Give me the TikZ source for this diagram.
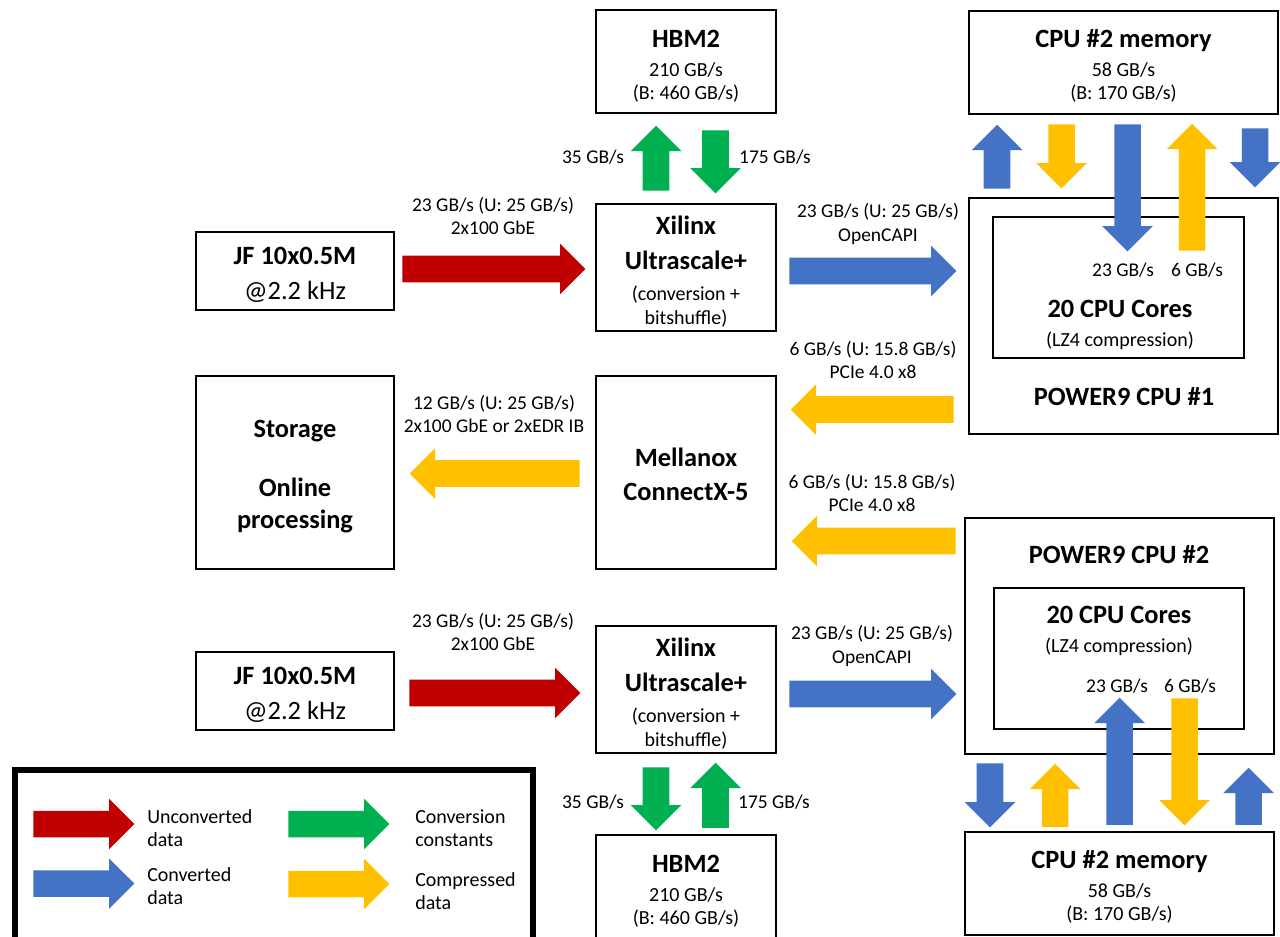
\documentclass[tikz,border=0pt]{standalone}
\usepackage{fontspec}
\setmainfont{Carlito}
\usetikzlibrary{shapes.arrows,positioning}

\definecolor{rawred}{HTML}{C00000}
\definecolor{convblue}{HTML}{4472C4}
\definecolor{constgreen}{HTML}{00B050}
\definecolor{comporange}{HTML}{FFC000}

\newcommand{\px}{*0.75pt}
\newcommand{\hd}{\fontsize{19.8}{22}\selectfont\bfseries}
\newcommand{\sm}{\fontsize{15}{17.4}\selectfont}

\begin{document}
\begin{tikzpicture}[x=0.75pt, y=-0.75pt,
    box/.style={draw, line width=1.5pt, rectangle, inner sep=0pt},
    boxtext/.style={align=center, inner sep=0pt, font=\sm, yshift=-3pt},
    lbl/.style={align=center, inner sep=0pt, font=\fontsize{14.6}{17.6}\selectfont},
    fat/.style={single arrow, draw=none, inner xsep=0pt, inner ysep=13\px, single arrow head extend=12\px, anchor=tail}]
    \useasboundingbox (0,0) rectangle (1280,936);

    % boxes
    \node [box, minimum width=180\px, minimum height=103\px, label={[boxtext, yshift=-0.5pt]center:{\hd HBM2\\[4.4pt] 210 GB/s\\(B: 460 GB/s)}}] (hbmtop) at (686,61.5) {};
    \node [box, minimum width=180\px, minimum height=127\px, label={[boxtext]center:{\hd Xilinx\\[8.8pt]\hd Ultrascale+\\[6pt] (conversion +\\bitshuffle)}}] (xilinxtop) at (686,267.5) {};
    \node [box, minimum width=198\px, minimum height=78\px, label={[boxtext]center:{\hd JF 10x0.5M\\[8.8pt]\fontsize{19.8}{22}\selectfont @2.2 kHz}}] (jftop) at (295,271) {};
    \node [box, minimum width=198\px, minimum height=193\px, label={[boxtext]center:{\hd Storage\\[26.6pt]\hd Online\\[6.6pt]\hd processing}}] (storage) at (295,472.5) {};
    \node [box, minimum width=180\px, minimum height=193\px, label={[boxtext, yshift=2pt]center:{\hd Mellanox\\[8.1pt]\hd ConnectX-5}}] (mellanox) at (686,472.5) {};
    \node [box, minimum width=198\px, minimum height=78\px, label={[boxtext]center:{\hd JF 10x0.5M\\[8.8pt]\fontsize{19.8}{22}\selectfont @2.2 kHz}}] (jfbottom) at (295,691) {};
    \node [box, minimum width=180\px, minimum height=127\px, label={[boxtext]center:{\hd Xilinx\\[8.8pt]\hd Ultrascale+\\[6pt] (conversion +\\bitshuffle)}}] (xilinxbottom) at (686,689.5) {};
    \node [box, minimum width=180\px, minimum height=103\px, label={[boxtext, yshift=-0.5pt]center:{\hd HBM2\\[4.4pt] 210 GB/s\\(B: 460 GB/s)}}] (hbmbottom) at (686,886.5) {};

    \node [box, minimum width=309\px, minimum height=103\px, label={[boxtext, yshift=0.5pt]center:{\hd CPU \#2 memory\\[4.4pt] 58 GB/s\\(B: 170 GB/s)}}] (memtop) at (1123.5,62.5) {};
    \node [box, minimum width=309\px, minimum height=236\px] (cputop) at (1123.5,316) {};
    \node [box, minimum width=251\px, minimum height=141\px] (corestop) at (1118.5,287.5) {};
    \node [boxtext, yshift=0pt] (corestoptext) at (1120,320.5) {\hd 20 CPU Cores\\[4.4pt] (LZ4 compression)};
    \node [font=\hd] (cputoptitle) at (1124,397) {POWER9 CPU \#1};

    \node [box, minimum width=309\px, minimum height=236\px] (cpubottom) at (1119.5,636) {};
    \node [box, minimum width=250\px, minimum height=141\px] (coresbottom) at (1119,658.5) {};
    \node [font=\hd] (cpubottomtitle) at (1119,555) {POWER9 CPU \#2};
    \node [boxtext, yshift=0pt] (coresbottomtext) at (1119,626.5) {\hd 20 CPU Cores\\[4.4pt] (LZ4 compression)};
    \node [box, minimum width=309\px, minimum height=103\px, label={[boxtext, yshift=0.5pt]center:{\hd CPU \#2 memory\\[4.4pt] 58 GB/s\\(B: 170 GB/s)}}] (membottom) at (1119.5,883.5) {};

    % data flow
    \node [fat, fill=rawred, minimum height=183\px] (rawtop) at (402,269) {};
    \node [fat, fill=convblue, minimum height=167\px] (convtop) at (789,271) {};
    \node [fat, fill=comporange, rotate=180, minimum height=163\px] (comptop) at (954,409.5) {};
    \node [fat, fill=comporange, rotate=180, minimum height=170\px] (compstore) at (580,473.5) {};
    \node [fat, fill=comporange, rotate=180, minimum height=164\px] (compbottom) at (956,541) {};
    \node [fat, fill=rawred, minimum height=171\px] (rawbottom) at (409,693) {};
    \node [fat, fill=convblue, minimum height=167\px] (convbottom) at (789,694) {};

    \node [fat, fill=constgreen, rotate=90, minimum height=65\px] (hbmtopup) at (656,191) {};
    \node [fat, fill=constgreen, rotate=-90, minimum height=63\px] (hbmtopdown) at (715.5,130) {};
    \node [fat, fill=constgreen, rotate=-90, minimum height=63\px] (hbmbottomdown) at (656,767) {};
    \node [fat, fill=constgreen, rotate=90, minimum height=65\px] (hbmbottomup) at (715.5,828) {};

    \node [fat, fill=convblue, rotate=90, minimum height=64\px] (memtopa) at (997,189) {};
    \node [fat, fill=comporange, rotate=-90, minimum height=64\px] (memtopb) at (1061.5,124) {};
    \node [fat, fill=convblue, rotate=-90, minimum height=127\px] (memtopc) at (1127.5,124) {};
    \node [fat, fill=comporange, rotate=90, minimum height=127\px] (memtopd) at (1192,251) {};
    \node [fat, fill=convblue, rotate=-90, minimum height=59\px] (memtope) at (1255,128) {};

    \node [fat, fill=convblue, rotate=-90, minimum height=64\px] (membottoma) at (990,763) {};
    \node [fat, fill=comporange, rotate=90, minimum height=63\px] (membottomb) at (1055,827) {};
    \node [fat, fill=convblue, rotate=90, minimum height=127\px] (membottomc) at (1119.5,825) {};
    \node [fat, fill=comporange, rotate=-90, minimum height=127\px] (membottomd) at (1184.5,698) {};
    \node [fat, fill=convblue, rotate=90, minimum height=57\px] (membottome) at (1248.5,825) {};

    % rates
    \node [lbl] (rawtoplbl) at (493,216) {23 GB/s (U: 25 GB/s)\\2x100 GbE};
    \node [lbl] (convtoplbl) at (878,224) {23 GB/s (U: 25 GB/s)\\OpenCAPI};
    \node [lbl] (comptoplbl) at (873,360) {6 GB/s (U: 15.8 GB/s)\\PCIe 4.0 x8};
    \node [lbl] (compstorelbl) at (494,414) {12 GB/s (U: 25 GB/s)\\2x100 GbE or 2xEDR IB};
    \node [lbl] (compbottomlbl) at (872,493) {6 GB/s (U: 15.8 GB/s)\\PCIe 4.0 x8};
    \node [lbl] (rawbottomlbl) at (493,632) {23 GB/s (U: 25 GB/s)\\2x100 GbE};
    \node [lbl] (convbottomlbl) at (872,646) {23 GB/s (U: 25 GB/s)\\OpenCAPI};

    \node [lbl] (hbmtopuplbl) at (593,157) {35 GB/s};
    \node [lbl] (hbmtopdownlbl) at (775,157) {175 GB/s};
    \node [lbl] (hbmbottomdownlbl) at (593,802) {35 GB/s};
    \node [lbl] (hbmbottomuplbl) at (774,802) {175 GB/s};

    \node [lbl] (memtopclbl) at (1123,270) {23 GB/s};
    \node [lbl] (memtopdlbl) at (1197,270) {6 GB/s};
    \node [lbl] (membottomclbl) at (1117,686) {23 GB/s};
    \node [lbl] (membottomdlbl) at (1190,686) {6 GB/s};

    % legend
    \node [draw, line width=4.5pt, minimum width=518\px, minimum height=180\px] (legend) at (274,860) {};
    \node [fat, fill=rawred, minimum height=101\px] (legraw) at (33,824) {};
    \node [fat, fill=convblue, minimum height=101\px] (legconv) at (33,883.5) {};
    \node [fat, fill=constgreen, minimum height=101\px] (legconst) at (288,824) {};
    \node [fat, fill=comporange, minimum height=101\px] (legcomp) at (288,884) {};
    \node [anchor=west, align=left, inner sep=0pt, font=\sm] (legrawtext) at (147,828.5) {Unconverted\\data};
    \node [anchor=west, align=left, inner sep=0pt, font=\sm] (legconvtext) at (147,886.5) {Converted\\data};
    \node [anchor=west, align=left, inner sep=0pt, font=\sm] (legconsttext) at (415,828.5) {Conversion\\constants};
    \node [anchor=west, align=left, inner sep=0pt, font=\sm] (legcomptext) at (415,891) {Compressed\\data};
\end{tikzpicture}
\end{document}
